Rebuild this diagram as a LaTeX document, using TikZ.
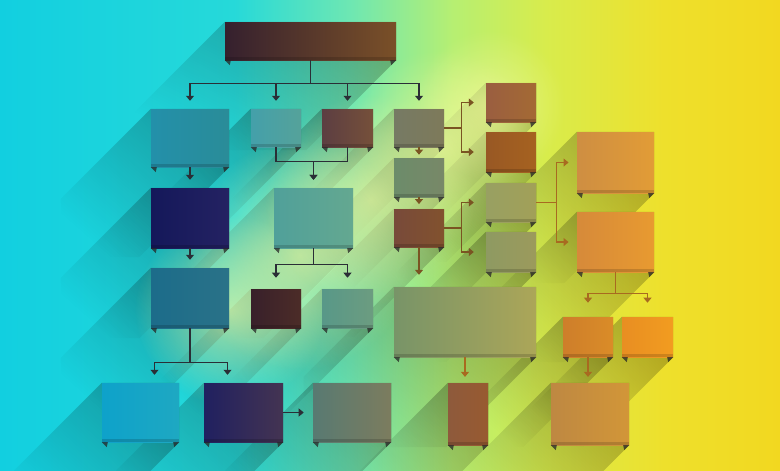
\documentclass[tikz,border=0pt]{standalone}
\usetikzlibrary{arrows.meta, positioning, fit, calc, fadings}
\pgfdeclarelayer{background}
\pgfsetlayers{background,main}

\definecolor{bg0}{HTML}{12CFE0}
\definecolor{bg1}{HTML}{26D9D9}
\definecolor{bg2}{HTML}{6EE7B2}
\definecolor{bg3}{HTML}{B6EF72}
\definecolor{bg4}{HTML}{D8EC4C}
\definecolor{bg5}{HTML}{EEE02C}
\definecolor{bg6}{HTML}{F2D820}
\definecolor{glowcol}{HTML}{F4FA9E}
\definecolor{linkdark}{HTML}{2A2E36}
\definecolor{linkmid}{HTML}{7A5422}
\definecolor{linkwarm}{HTML}{A86A20}

\pgfdeclarehorizontalshading{bgshade}{100bp}{color(0bp)=(bg0); color(25bp)=(bg0); color(40bp)=(bg1); color(47.5bp)=(bg2); color(54bp)=(bg3); color(60bp)=(bg4); color(67.5bp)=(bg5); color(75bp)=(bg6); color(100bp)=(bg6)}
\tikzfading[name=glowfade, inner color=transparent!0, outer color=transparent!100]
\tikzfading[name=shadefade, top color=transparent!0, bottom color=transparent!100]

\tikzstyle{blok} = [rectangle, inner sep=0pt, draw=none]
\tikzstyle{link} = [line width=1pt, -{Triangle[width=6.8pt,length=4.3pt]}, shorten >=6.8pt]
\tikzstyle{shadow} = [black, fill opacity=0.26, path fading=shadefade, fading angle=-45]
\tikzstyle{glow} = [glowcol, path fading=glowfade, fill opacity=0.65]

% box from two corners, with a left and a right colour
\newcommand{\chartbox}[5]{%
  \definecolor{#1l}{HTML}{#4}\definecolor{#1r}{HTML}{#5}%
  \node (#1) [blok, fit={#2 #3}, left color=#1l, right color=#1r] {};}
% long shadow to the lower left
\newcommand{\longshade}[1]{%
  \fill[shadow] (#1.north west) -- (#1.north east) -- (#1.south east)
    -- ($(#1.south east)+(-90,90)$) -- ($(#1.south west)+(-90,90)$)
    -- ($(#1.north west)+(-90,90)$) -- cycle;}
% folded feet under a box
\newcommand{\foldfeet}[1]{%
  \fill[black, opacity=0.15] (#1.south west) rectangle ($(#1.south east)+(0,-3)$);
  \fill[black!85, opacity=0.75] (#1.south west) -- ++(6,0) -- ++(-1,5) -- cycle;
  \fill[black!85, opacity=0.75] (#1.south east) -- ++(-6,0) -- ++(1,5) -- cycle;}

\begin{document}
\begin{tikzpicture}[x=0.03cm, y=-0.03cm]
\useasboundingbox (0,0) rectangle (780,470);
\begin{pgfonlayer}{background}
\shade[shading=bgshade] (0,0) rectangle (780,470);
\end{pgfonlayer}

% top and first row
\chartbox{top}{(225,22)}{(396,60)}{35202E}{7A5028}
\chartbox{A}{(151,109)}{(229,167)}{2390AA}{2A8C98}
\chartbox{B}{(251,109)}{(301,147)}{44A0AA}{55A29A}
\chartbox{C}{(322,109)}{(373,147)}{5C3E42}{76503A}
\chartbox{D}{(394,109)}{(444,147)}{767A64}{7E7A5A}

% right branches
\chartbox{R}{(486,83)}{(536,122)}{9A5E40}{A46A34}
\chartbox{S}{(486,132)}{(536,172)}{985824}{A66220}
\chartbox{M}{(394,158)}{(444,197)}{6C8C6A}{788868}
\chartbox{N}{(394,209)}{(444,247)}{784A3A}{82522E}
\chartbox{T}{(486,183)}{(536,222)}{98A062}{A2A058}
\chartbox{U}{(486,232)}{(536,272)}{8E9A62}{9C9A5C}
\chartbox{V}{(577,132)}{(654,193)}{CE8E42}{E29C36}
\chartbox{W}{(577,212)}{(654,272)}{D68A3A}{E89A30}

% middle rows
\chartbox{E}{(151,188)}{(229,248)}{14185A}{242262}
\chartbox{F}{(274,188)}{(353,248)}{50A09A}{64A890}
\chartbox{G}{(151,268)}{(229,328)}{1C6C8A}{2A7288}
\chartbox{H}{(251,289)}{(301,328)}{38202A}{4C2C28}
\chartbox{I}{(322,289)}{(373,328)}{589888}{6C9C80}
\chartbox{P}{(394,287)}{(536,357)}{789468}{ACA658}
\chartbox{X}{(563,317)}{(613,357)}{CE7E2A}{DA8C28}
\chartbox{Y}{(622,317)}{(673,357)}{E88E22}{F29C20}

% bottom row
\chartbox{J}{(102,383)}{(179,442)}{0EA2CA}{1EA8C2}
\chartbox{K}{(204,383)}{(283,442)}{202060}{443452}
\chartbox{L}{(313,383)}{(391,442)}{587A72}{7C7C5E}
\chartbox{Q}{(448,383)}{(488,445)}{8E5A3C}{985A30}
\chartbox{Z}{(551,383)}{(629,445)}{BE8842}{D29638}

\begin{pgfonlayer}{background}
\foreach \b in {top,A,B,C,D,R,S,M,N,T,U,V,W,E,F,G,H,I,P,X,Y,J,K,L,Q,Z}
  \longshade{\b};
% light glow along the diagonal
\foreach \cx/\cy/\r in {230/310/95, 300/255/115, 370/200/105, 440/145/95, 490/105/75}
  \fill[glow] (\cx,\cy) circle (\r);
\end{pgfonlayer}
\foreach \b in {top,A,B,C,D,R,S,M,N,T,U,V,W,E,F,G,H,I,P,X,Y,J,K,L,Q,Z}
  \foldfeet{\b};

\draw [link, linkdark] (top.south) -- ++(0,23) -| (A.north);
\draw [link, linkdark] (top.south) -- ++(0,23) -| (B.north);
\draw [link, linkdark] (top.south) -- ++(0,23) -| (C.north);
\draw [link, linkdark] (top.south) -- ++(0,23) -| (D.north);
\draw [link, linkdark] (B.south) -- ++(0,14) -| (F.north);
\draw [link, linkdark] (C.south) -- ++(0,14) -| (F.north);
\draw [link, linkdark] (A.south) -- (E.north);
\draw [link, linkdark] (E.south) -- (G.north);
\draw [link, linkdark, shorten >=9.4pt] (F.south) -- ++(0,16) -| (H.north);
\draw [link, linkdark, shorten >=9.4pt] (F.south) -- ++(0,16) -| (I.north);
\draw [link, linkdark] (G.south) -- ++(0,34) -| ($(J.north)+(14,0)$);
\draw [link, linkdark] (G.south) -- ++(0,34) -| ($(K.north)+(-16,0)$);
\draw [link, linkdark, shorten >=7.7pt] (K.east) -- (L.west);

\draw [link, linkmid, shorten >=2.6pt] (D.south) -- (M.north);
\draw [link, linkmid, shorten >=4pt] (M.south) -- (N.north);
\draw [link, linkmid, shorten >=10.2pt] (N.south) -- (N.south |- P.north);
\draw [link, linkmid, shorten >=10.2pt] (D.east) -- ++(17,0) |- (R.west);
\draw [link, linkmid, shorten >=10.2pt] (D.east) -- ++(17,0) |- (S.west);
\draw [link, linkmid, shorten >=10.2pt] (N.east) -- ++(17,0) |- (T.west);
\draw [link, linkmid, shorten >=10.2pt] (N.east) -- ++(17,0) |- (U.west);

\draw [link, linkwarm, shorten >=7pt] (T.east) -- ++(20,0) |- (V.west);
\draw [link, linkwarm, shorten >=7pt] (T.east) -- ++(20,0) |- (W.west);
\draw [link, linkwarm, shorten >=12pt] (W.south) -- ++(0,21) -| (X.north);
\draw [link, linkwarm, shorten >=12pt] (W.south) -- ++(0,21) -| (Y.north);
\draw [link, linkwarm, shorten >=5pt] (X.south) -- (X.south |- Z.north);
\draw [link, linkwarm, shorten >=5pt] (P.south) -- (P.south |- Q.north);
\end{tikzpicture}
\end{document}
